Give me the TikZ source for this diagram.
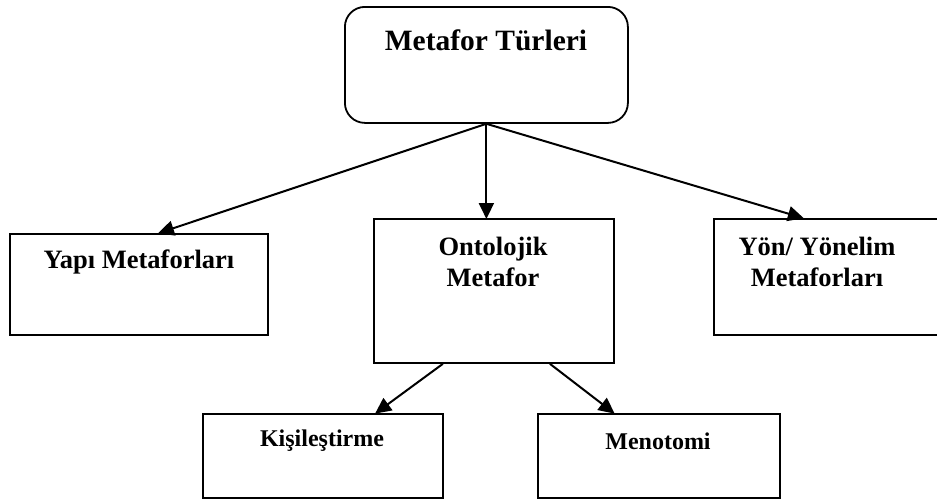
\documentclass[tikz,border=0pt]{standalone}
\usepackage{fontspec}
\setmainfont{Liberation Serif}
\usetikzlibrary{arrows.meta}
\tikzset{
	kutu/.style={draw, line width=1.8pt, inner sep=0pt, anchor=north west},
	yazi/.style={font=\bfseries\fontsize{#1}{31}\selectfont, align=center, inner sep=0pt},
	ok/.style={line width=2pt, -{Triangle[length=16pt,width=15pt]}, shorten >=-1pt}
}

\begin{document}
\begin{tikzpicture}[x=1pt, y=-1pt]
	\clip (0,0) rectangle (937,499);
	\useasboundingbox (0,0) rectangle (937,499);
	\node[kutu, rounded corners=20pt, minimum width=283pt, minimum height=116pt] (tur) at (344,6) {};
	\node[kutu, minimum width=258pt, minimum height=101pt] (yapi) at (9,233) {};
	\node[kutu, minimum width=240pt, minimum height=144pt] (ont) at (373,218) {};
	\node[kutu, minimum width=240pt, minimum height=116pt] (yon) at (713,218) {};
	\node[kutu, minimum width=240pt, minimum height=84pt] (kis) at (202,413) {};
	\node[kutu, minimum width=242pt, minimum height=84pt] (men) at (537,413) {};
	\node[yazi=29.5] (turT) at (486,40) {Metafor Türleri};
	\node[yazi=26.5] (yapiT) at (139,262) {Yapı Metaforları};
	\node[yazi=26.5] (ontT) at (493,262) {Ontolojik\\Metafor};
	\node[yazi=26.5] (yonT) at (817,262) {Yön/ Yönelim\\Metaforları};
	\node[yazi=24] (kisT) at (322,441) {Kişileştirme};
	\node[yazi=24] (menT) at (658,441) {Menotomi};
	\draw[ok] (tur.south) -- ([xshift=20pt]yapi.north);
	\draw[ok] (tur.south) -- (tur.south |- ont.north);
	\draw[ok] (tur.south) -- ([xshift=-31pt]yon.north);
	\draw[ok] ([xshift=-51pt]ont.south) -- ([xshift=53pt]kis.north);
	\draw[ok] ([xshift=56pt]ont.south) -- ([xshift=-45pt]men.north);
\end{tikzpicture}
\end{document}
